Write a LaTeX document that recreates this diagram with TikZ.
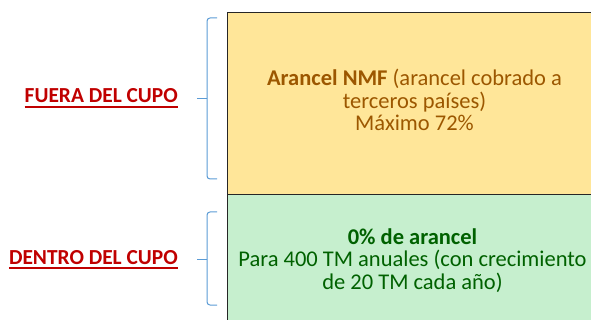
\documentclass[tikz,border=0pt]{standalone}
\usepackage{fontspec}
\setmainfont{Carlito}
\definecolor{yfill}{HTML}{FFE699}
\definecolor{ytext}{HTML}{9C5700}
\definecolor{gfill}{HTML}{C6EFCE}
\definecolor{gtext}{HTML}{006100}
\definecolor{lred}{HTML}{C00000}
\definecolor{bblue}{HTML}{5B9BD5}
\begin{document}
\begin{tikzpicture}[x=1pt,y=-1pt,
  box/.style={draw=black!85, line width=1.3pt, inner sep=0pt, anchor=north west},
  side/.style={text=lred, font=\fontsize{21.4}{22}\selectfont\bfseries, inner sep=0pt, anchor=base east},
  brace/.style={draw=bblue, line width=1pt, rounded corners=3pt},
  uline/.style={draw=lred, line width=1.4pt}]
\useasboundingbox (0,0) rectangle (591,320);
\node[box, fill=yfill, minimum width=380pt, minimum height=182pt] (top) at (227,12) {};
\node[box, fill=gfill, minimum width=380pt, minimum height=140pt] (bot) at (227,194) {};
\node[text=ytext, align=center, font=\fontsize{22.5}{22.8}\selectfont] (ttext) at (414.5,100)
  {\textbf{Arancel NMF} (arancel cobrado a\\terceros países)\\Máximo 72\%};
\node[text=gtext, align=center, font=\fontsize{22.5}{22.8}\selectfont] (btext) at (412.5,260.5)
  {\textbf{0\% de arancel}\\Para 400 TM anuales (con crecimiento\\de 20 TM cada año)};
\node[side] (fuera) at (178,103) {FUERA DEL CUPO};
\node[side] (dentro) at (178,264) {DENTRO DEL CUPO};
\draw[uline] ([yshift=-4pt]fuera.base west) -- ([yshift=-4pt]fuera.base east);
\draw[uline] ([yshift=-4pt]dentro.base west) -- ([yshift=-4pt]dentro.base east);
\draw[brace] (217,18) -- (207,18) -- (207,99);
\draw[brace] (207,99) -- (207,179) -- (217,179);
\draw[draw=bblue, line width=1pt] (197,99) -- (207,99);
\draw[brace] (217,212) -- (207,212) -- (207,259);
\draw[brace] (207,259) -- (207,305) -- (217,305);
\draw[draw=bblue, line width=1pt] (197,259) -- (207,259);
\end{tikzpicture}
\end{document}
